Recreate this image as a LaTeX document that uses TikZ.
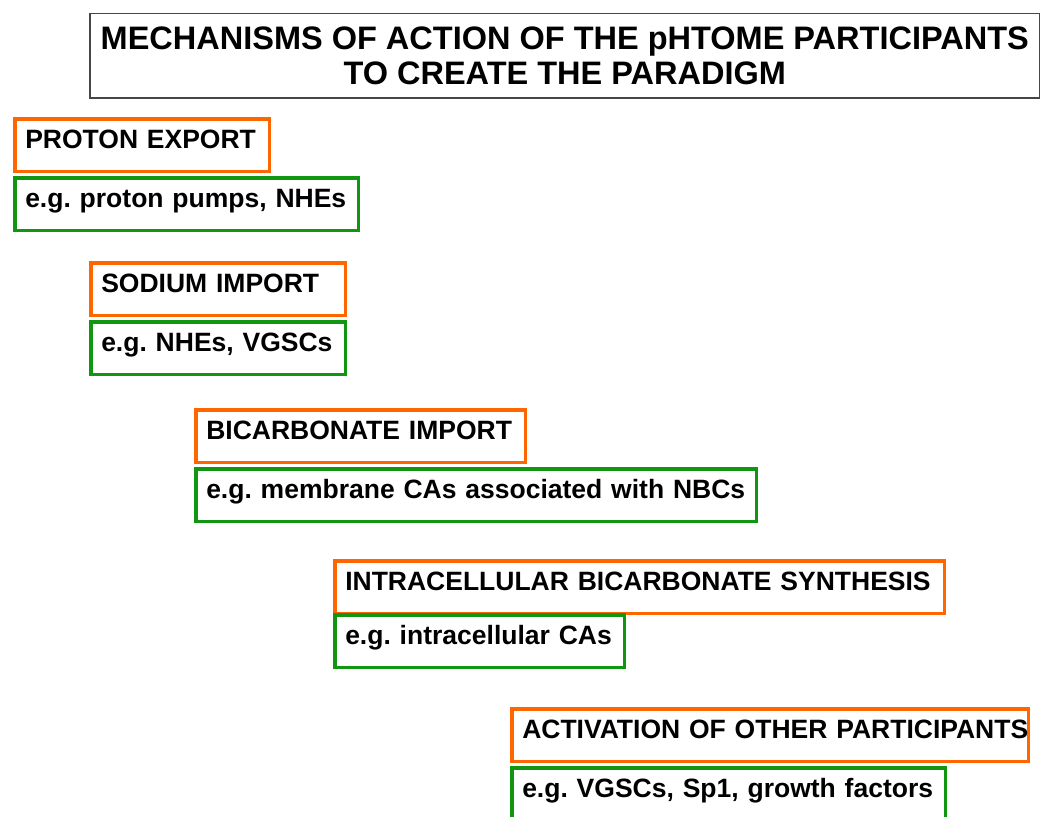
\documentclass[tikz,border=0pt]{standalone}
\usepackage{fontspec}
\setmainfont{Liberation Sans}
\usepackage{xcolor}
\definecolor{orng}{RGB}{255,102,0}
\definecolor{vert}{RGB}{16,150,16}
\definecolor{frame}{RGB}{70,70,70}
\usetikzlibrary{positioning}
\tikzset{
  titlebox/.style={rectangle, draw=frame, line width=1.5pt, align=center, anchor=north west,
    font=\fontsize{32.5}{35}\selectfont\bfseries, minimum width=950pt, minimum height=84pt, inner sep=0pt},
  mech/.style={rectangle, draw=orng, line width=3.5pt, align=left, anchor=north west,
    font=\fontsize{26.5}{30}\selectfont\bfseries\frenchspacing, inner xsep=10.5pt, inner ysep=0pt, text height=30pt, text depth=22.5pt},
  expl/.style={mech, draw=vert}
}

\begin{document}
\begin{tikzpicture}[x=1pt,y=-1pt]
  \useasboundingbox (0,0) rectangle (1040,816);

  \node[titlebox] (title) at (89,13) {MECHANISMS OF ACTION OF THE pHTOME PARTICIPANTS\\ TO CREATE THE PARADIGM};

  \node[mech, text width=233.5pt] (proton) at (13,117) {PROTON EXPORT};
  \node[expl, text width=322.5pt, below=3pt of proton.south west, anchor=north west] (protonex) {e.g. proton pumps, NHEs};

  \node[mech, text width=233.5pt] (sodium) at (89,261) {SODIUM IMPORT};
  \node[expl, text width=233.5pt, below=3pt of sodium.south west, anchor=north west] (sodiumex) {e.g. NHEs, VGSCs};

  \node[mech, text width=308.5pt] (bicarb) at (194,408) {\mbox{BICARBONATE IMPORT}};
  \node[expl, text width=539.5pt, below=3pt of bicarb.south west, anchor=north west] (bicarbex) {e.g. membrane CAs associated with NBCs};

  \node[mech, text width=588.5pt] (synth) at (333,559) {INTRACELLULAR BICARBONATE SYNTHESIS};
  \node[expl, text width=268.5pt, below=-2pt of synth.south west, anchor=north west] (synthex) {e.g. intracellular CAs};

  \node[mech, text width=495.5pt] (activ) at (510,707) {\mbox{ACTIVATION OF OTHER PARTICIPANTS}};
  \node[expl, text width=412.5pt, below=3pt of activ.south west, anchor=north west] (activex) {e.g. VGSCs, Sp1, growth factors};
\end{tikzpicture}
\end{document}
